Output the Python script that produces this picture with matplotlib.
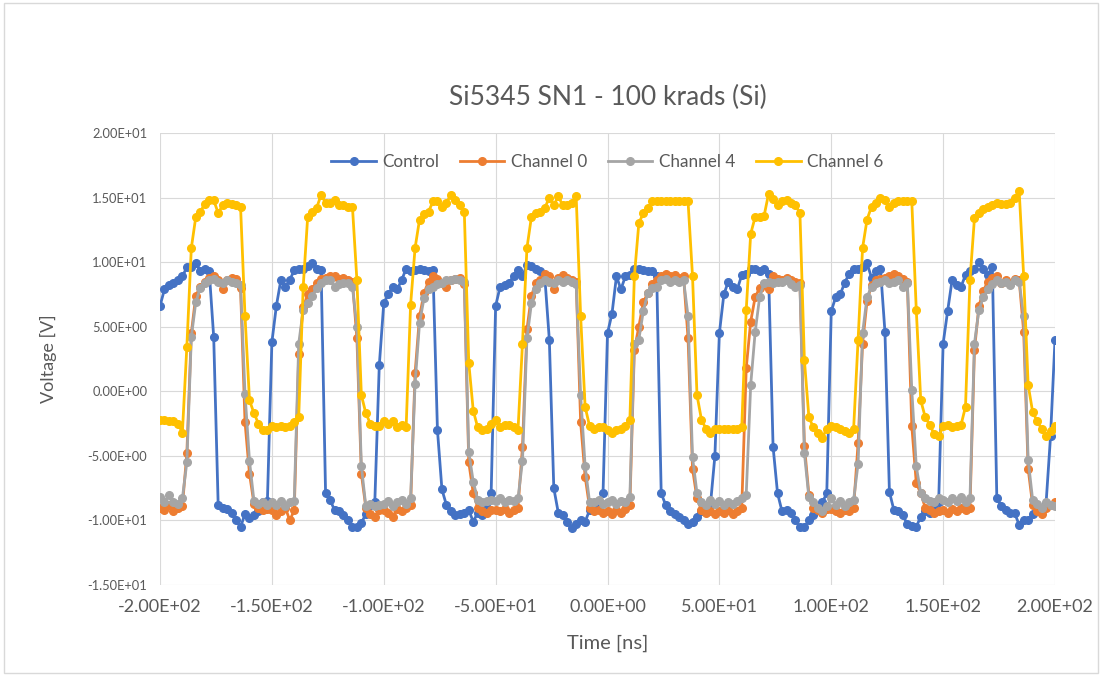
import numpy as np
import matplotlib.pyplot as plt
from matplotlib.patches import Rectangle

plt.rcParams['font.family'] = ['Lato', 'DejaVu Sans']

# sample time in ns (scope record, 2 ns per point)
t = np.arange(-200, 202, 2)

# one row per 50 ns period, last value is t = 200
control = [
    6.6, 7.9, 8.2, 8.4, 8.6, 8.9, 9.6, 9.6, 9.9, 9.3, 9.5, 9.3, 4.2, -8.8, -9.0, -9.1, -9.4, -10.0, -10.5, -9.5, -9.8, -9.6, -9.3, -8.6, -8.5,
    3.8, 6.6, 8.6, 8.1, 8.6, 9.4, 9.5, 9.5, 9.7, 9.9, 9.5, 9.4, -7.9, -8.4, -9.2, -9.3, -9.6, -10.0, -10.5, -10.5, -10.2, -9.5, -8.8, -8.6, 2.0,
    6.8, 7.5, 8.1, 7.9, 8.6, 9.5, 9.3, 9.4, 9.5, 9.4, 9.3, 9.4, -3.0, -7.6, -8.8, -9.3, -9.6, -9.5, -9.4, -9.2, -10.1, -9.4, -9.6, -9.0, -7.9,
    6.6, 8.1, 8.2, 8.4, 8.9, 9.4, 8.9, 9.8, 9.7, 9.5, 9.3, 8.8, 4.0, -7.5, -9.4, -9.6, -10.1, -10.6, -10.3, -10.0, -10.1, -9.2, -9.0, -8.7, -7.9,
    4.5, 6.0, 8.9, 7.9, 8.9, 9.0, 9.5, 9.5, 9.4, 9.3, 9.3, 8.9, -7.9, -8.8, -9.3, -9.5, -9.7, -10.0, -10.3, -10.1, -9.7, -9.3, -9.0, -8.8, -5.0,
    4.5, 7.5, 8.5, 8.1, 7.9, 9.0, 9.1, 9.5, 9.5, 9.3, 9.5, 9.1, -4.3, -7.9, -9.3, -9.2, -9.4, -10.0, -10.5, -10.5, -10.0, -9.6, -9.2, -8.6, -7.9,
    6.2, 7.3, 7.5, 8.4, 9.1, 9.5, 9.5, 9.6, 9.9, 8.8, 9.3, 9.5, 4.6, -7.8, -9.2, -9.3, -9.6, -10.3, -10.4, -10.5, -9.7, -9.3, -9.4, -9.0, -8.6,
    3.7, 6.2, 8.6, 8.2, 8.1, 9.0, 9.3, 9.5, 10.0, 9.5, 9.0, 9.65, -8.3, -8.9, -9.2, -9.45, -9.45, -10.35, -10.0, -10.0, -9.5, -9.3, -9.1, -8.7, -3.5,
    4.0,
]

channel0 = [
    -9.0, -9.2, -8.8, -9.3, -9.0, -8.9, -4.8, 4.5, 7.4, 8.1, 8.5, 8.8, 8.9, 8.6, 7.9, 8.6, 8.8, 8.7, 8.0, -2.4, -6.4, -8.7, -9.0, -9.2, -9.1,
    -9.2, -9.6, -9.3, -9.0, -10.0, -9.2, 2.9, 6.5, 7.5, 7.9, 8.4, 8.7, 8.8, 8.9, 8.9, 8.7, 8.8, 8.6, 8.5, 4.1, -6.4, -9.0, -9.5, -9.7, -9.2,
    -9.2, -9.4, -9.7, -9.1, -9.3, -9.0, -8.8, 1.4, 5.8, 7.6, 8.5, 8.9, 8.7, 8.4, 8.1, 8.6, 8.7, 8.8, 8.3, -5.5, -7.9, -9.0, -9.3, -9.4, -9.2,
    -9.2, -9.3, -9.1, -9.4, -9.2, -9.0, -4.3, 4.8, 7.4, 8.4, 8.6, 9.1, 8.9, 7.9, 8.8, 9.0, 8.8, 8.6, 8.5, -2.4, -6.6, -9.0, -9.3, -9.2, -9.4,
    -9.3, -9.5, -9.2, -9.4, -9.1, -8.8, 3.2, 5.0, 6.9, 7.6, 8.3, 8.6, 8.9, 9.1, 8.9, 9.0, 8.8, 8.9, 4.1, -6.0, -8.3, -9.2, -9.4, -9.3, -9.5,
    -9.3, -9.4, -9.2, -9.5, -9.3, -9.0, 1.8, 5.4, 7.3, 8.0, 8.3, 7.9, 8.9, 8.7, 8.6, 8.8, 8.6, 8.5, 8.4, -4.2, -8.0, -9.0, -9.2, -9.4, -9.1,
    -9.1, -9.3, -9.4, -9.2, -9.3, -9.0, -4.0, 3.7, 7.0, 8.2, 8.6, 8.7, 8.8, 8.9, 9.1, 8.9, 8.7, 8.5, -2.7, -7.1, -7.9, -9.0, -9.2, -9.4, -9.3,
    -9.2, -9.4, -9.1, -9.3, -9.0, -9.2, -9.0, 3.2, 6.6, 7.8, 8.5, 8.8, 8.9, 8.4, 8.6, 8.3, 8.7, 8.6, 4.6, -6.0, -8.8, -9.3, -9.5, -9.0, -8.8,
    -8.6,
]

channel4 = [
    -8.2, -8.6, -8.0, -8.6, -8.7, -8.3, -5.5, 4.2, 6.9, 8.0, 8.4, 8.6, 8.7, 8.5, 8.4, 8.6, 8.5, 8.4, 8.2, -0.2, -5.4, -8.5, -8.7, -8.6, -8.8,
    -8.6, -8.8, -8.5, -8.9, -8.6, -8.5, 3.7, 6.3, 6.8, 7.4, 8.0, 8.4, 8.6, 8.6, 8.1, 8.3, 8.4, 8.4, 8.1, 5.0, -5.8, -8.9, -8.7, -8.9, -8.8,
    -8.7, -8.5, -8.9, -8.6, -8.4, -8.7, -8.3, 0.6, 5.3, 7.2, 7.9, 8.1, 8.3, 8.4, 8.6, 8.6, 8.7, 8.6, 8.5, -4.7, -7.0, -8.4, -8.6, -8.5, -8.4,
    -8.5, -8.3, -8.6, -8.4, -8.5, -8.3, -5.4, 4.1, 6.8, 7.9, 8.4, 8.6, 8.5, 8.4, 8.6, 8.5, 8.6, 8.5, 8.3, -0.3, -5.8, -8.6, -8.6, -8.4, -8.7,
    -8.6, -8.4, -8.7, -8.5, -8.6, -8.2, 3.7, 4.0, 6.2, 7.6, 8.0, 8.1, 8.6, 8.7, 8.5, 8.6, 8.5, 8.6, 5.8, -5.1, -7.9, -8.6, -8.8, -8.4, -8.7,
    -8.5, -8.8, -8.6, -8.7, -8.5, -8.3, -8.0, 0.5, 4.6, 7.3, 8.4, 8.5, 8.4, 8.5, 8.5, 8.6, 8.3, 8.1, 8.2, -4.8, -8.2, -8.6, -9.0, -9.3, -8.9,
    -8.3, -8.8, -8.5, -8.9, -8.6, -8.4, -5.6, 4.5, 7.3, 8.1, 8.4, 8.5, 8.6, 8.4, 8.5, 8.6, 8.1, 8.4, 0.1, -5.8, -7.9, -8.3, -8.5, -8.6, -8.3,
    -8.4, -8.6, -8.3, -8.5, -8.2, -8.6, -8.3, 3.7, 6.3, 7.3, 7.9, 8.3, 8.6, 8.4, 8.5, 8.2, 8.6, 8.5, 5.8, -5.3, -8.4, -8.7, -9.0, -8.6, -8.8,
    -8.9,
]

channel6 = [
    -2.2, -2.2, -2.3, -2.3, -2.5, -3.2, 3.45, 11.1, 13.5, 13.9, 14.5, 14.8, 14.8, 13.8, 14.4, 14.6, 14.5, 14.4, 14.3, 5.8, -0.7, -1.7, -2.5, -3.0, -3.0,
    -2.7, -2.8, -2.7, -2.8, -2.7, -2.4, -2.0, 8.1, 13.5, 13.9, 14.2, 15.2, 14.6, 14.6, 14.8, 14.4, 14.4, 14.3, 14.3, 8.6, -0.3, -1.7, -2.5, -2.7, -2.7,
    -2.3, -2.5, -2.3, -2.8, -2.6, -2.8, 6.7, 11.1, 13.3, 13.7, 13.9, 14.7, 14.7, 14.3, 14.6, 15.2, 14.8, 14.4, 13.9, 2.2, -1.5, -2.8, -3.0, -2.9, -2.5,
    -2.2, -2.8, -2.6, -2.6, -2.8, -3.0, 3.7, 11.1, 13.5, 13.8, 13.9, 14.2, 15.0, 14.4, 15.1, 14.4, 14.4, 14.6, 15.1, 5.8, -1.2, -2.7, -2.9, -2.8, -2.8,
    -3.0, -3.2, -3.0, -2.9, -2.7, -2.2, 8.9, 13.0, 13.8, 14.2, 14.7, 14.7, 14.7, 14.7, 14.7, 14.7, 14.7, 14.7, 14.7, 8.9, -0.3, -2.2, -2.9, -3.25, -2.9,
    -2.9, -2.9, -2.9, -2.9, -2.9, -2.8, 6.3, 12.2, 13.5, 13.5, 13.6, 15.3, 14.9, 14.4, 14.7, 14.8, 14.6, 14.4, 13.8, 2.4, -2.0, -2.8, -3.2, -3.6, -2.9,
    -2.7, -2.8, -2.9, -3.1, -3.2, -2.9, 4.0, 11.1, 13.3, 14.3, 14.6, 15.0, 14.8, 14.3, 14.6, 14.7, 14.7, 14.7, 14.7, 6.3, -0.7, -2.0, -2.6, -3.3, -3.5,
    -2.7, -2.6, -2.8, -2.7, -2.6, -1.2, 8.6, 13.4, 13.8, 14.1, 14.3, 14.4, 14.6, 14.5, 14.5, 14.6, 15.0, 15.5, 8.9, 0.5, -1.6, -2.3, -2.9, -3.5, -3.1,
    -2.7,
]

series = [
    ('Control', control, '#4472C4'),
    ('Channel 0', channel0, '#ED7D31'),
    ('Channel 4', channel4, '#A5A5A5'),
    ('Channel 6', channel6, '#FFC000'),
]

fig = plt.figure(figsize=(11.02, 6.76), dpi=100)
ax = fig.add_axes([160/1102, 1 - 585/676, 895/1102, 452/676])

for name, v, c in series:
    ax.plot(t, v, color=c, lw=2, marker='o', ms=5.5, label=name)

ax.set_xlim(-200, 200)
ax.set_ylim(-15, 20)
xt = np.arange(-200, 201, 50)
yt = np.arange(-15, 21, 5)
ax.set_xticks(xt)
ax.set_yticks(yt)
ax.set_xticklabels([f'{v:.2E}' for v in xt])
ax.set_yticklabels([f'{v:.2E}' for v in yt])
ax.tick_params(length=0, labelcolor='#595959')
ax.tick_params(axis='x', labelsize=13, pad=10)
ax.tick_params(axis='y', labelsize=9.3, pad=9)
ax.grid(True, color='#D9D9D9', lw=0.8)
ax.set_axisbelow(True)
for s in ax.spines.values():
    s.set_visible(False)

ax.set_xlabel('Time [ns]', fontsize=14.5, color='#595959', labelpad=14)
ax.set_ylabel('Voltage [V]', fontsize=13, color='#595959', labelpad=22)
ax.set_title('Si5345 SN1 - 100 krads (Si)', fontsize=19, color='#595959', pad=20)

leg = ax.legend(loc='center', bbox_to_anchor=(0.5, 0.935), ncol=4, frameon=False,
                fontsize=12.3, handlelength=2.6, columnspacing=1.2, handletextpad=0.4)
for txt in leg.get_texts():
    txt.set_color('#595959')

fig.patches.append(Rectangle((0.004, 0.004), 0.992, 0.992, transform=fig.transFigure,
                             fill=False, edgecolor='#D9D9D9', lw=1))

fig.savefig('out.png', dpi=100)
